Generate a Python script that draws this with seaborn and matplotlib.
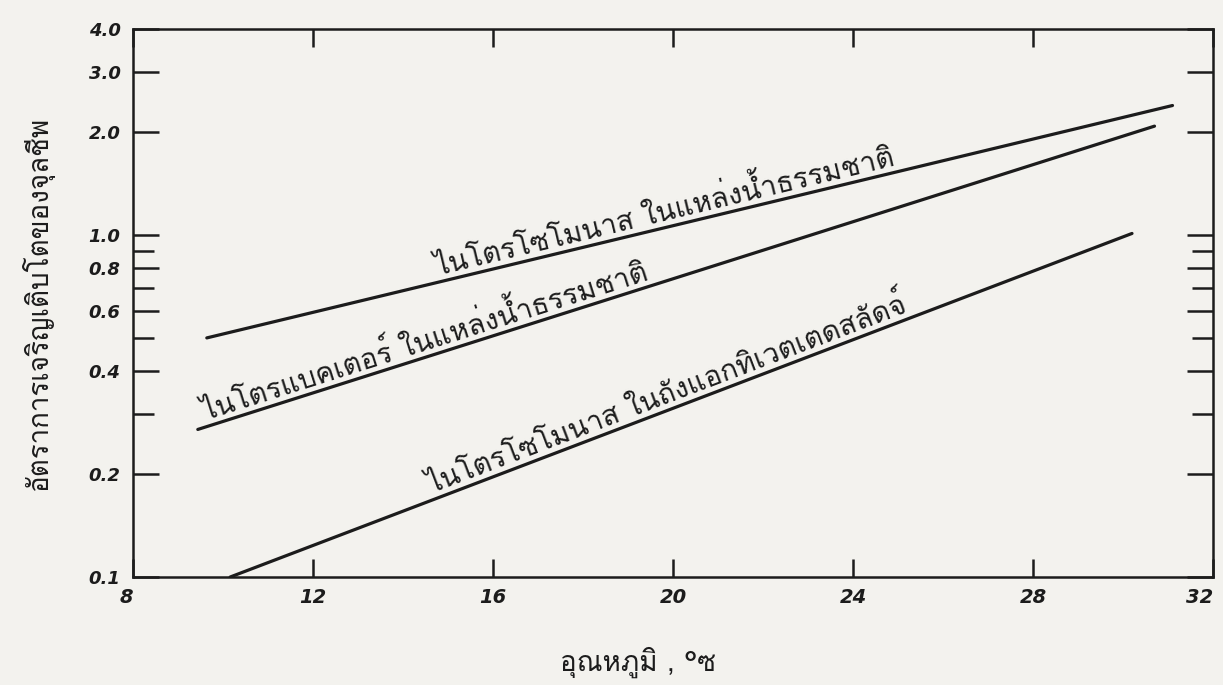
import numpy as np
import pandas as pd
import matplotlib
matplotlib.use("Agg")
import matplotlib.pyplot as plt
import seaborn as sns
from matplotlib import font_manager
from matplotlib.ft2font import FT2Font
from matplotlib.ticker import FixedLocator, FixedFormatter, NullFormatter

# Growth-rate lines: temperature (°C) against growth rate (log scale)
nitrosomonas_natural_temp = [9.64, 31.1]
nitrosomonas_natural_rate = [0.50, 2.39]
nitrobacter_natural_temp = [9.44, 30.7]
nitrobacter_natural_rate = [0.27, 2.08]
nitrosomonas_sludge_temp = [10.16, 30.2]
nitrosomonas_sludge_rate = [0.10, 1.01]

series_labels = [
    "ไนโตรโซโมนาส ในแหล่งน้ำธรรมชาติ",
    "ไนโตรแบคเตอร์ ในแหล่งน้ำธรรมชาติ",
    "ไนโตรโซโมนาส ในถังแอกทิเวตเตดสลัดจ์",
]
# x position (°C) of the centre of each label along its line
label_centres = [19.9, 14.6, 20.0]

x_ticks = [8, 12, 16, 20, 24, 28, 32]
x_tick_labels = ["8", "12", "16", "20", "24", "28", "32"]
y_major = [0.1, 0.2, 0.4, 0.6, 0.8, 1.0, 2.0, 3.0, 4.0]
y_major_labels = ["0.1", "0.2", "0.4", "0.6", "0.8", "1.0", "2.0", "3.0", "4.0"]
y_minor = [0.3, 0.5, 0.7, 0.9]

x_title = "อุณหภูมิ , °ซ"
y_title = "อัตราการเจริญเติบโตของจุลชีพ"

INK = "#1c1c1c"
PAPER = "#f3f2ee"


def thai_families():
    """Families installed on the system that carry Thai glyphs."""
    names = []
    for path in sorted(font_manager.findSystemFonts()):
        try:
            cmap = FT2Font(path).get_charmap()
        except Exception:
            continue
        if 0x0E01 in cmap and 0x0E49 in cmap:
            try:
                font_manager.fontManager.addfont(path)
                name = font_manager.FontProperties(fname=path).get_name()
            except Exception:
                continue
            if name not in names:
                names.append(name)
    return names


sns.set_style("ticks")
thai = thai_families()
text_family = (thai[:1] if thai else []) + ["DejaVu Sans"]
plt.rcParams["font.family"] = ["DejaVu Sans"]
plt.rcParams["axes.edgecolor"] = INK
plt.rcParams["xtick.color"] = INK
plt.rcParams["ytick.color"] = INK

df = pd.concat([
    pd.DataFrame({"temp": nitrosomonas_natural_temp,
                  "rate": nitrosomonas_natural_rate,
                  "series": series_labels[0]}),
    pd.DataFrame({"temp": nitrobacter_natural_temp,
                  "rate": nitrobacter_natural_rate,
                  "series": series_labels[1]}),
    pd.DataFrame({"temp": nitrosomonas_sludge_temp,
                  "rate": nitrosomonas_sludge_rate,
                  "series": series_labels[2]}),
], ignore_index=True)

W, H = 1223, 685
fig = plt.figure(figsize=(W / 100, H / 100), dpi=100, facecolor=PAPER)
ax = fig.add_axes([133 / W, 1 - 577 / H, 1080 / W, 548 / H])
ax.set_facecolor(PAPER)

sns.lineplot(data=df, x="temp", y="rate", hue="series",
             palette=[INK] * 3, linewidth=2.3, legend=False,
             estimator=None, sort=False, ax=ax,
             solid_capstyle="round")

ax.set_yscale("log")
ax.set_xlim(8, 32)
ax.set_ylim(0.1, 4.0)

for side in ("left", "right", "top", "bottom"):
    ax.spines[side].set_visible(True)
    ax.spines[side].set_linewidth(1.8)
    ax.spines[side].set_color(INK)

ax.xaxis.set_major_locator(FixedLocator(x_ticks))
ax.xaxis.set_major_formatter(FixedFormatter(x_tick_labels))
ax.yaxis.set_major_locator(FixedLocator(y_major))
ax.yaxis.set_major_formatter(FixedFormatter(y_major_labels))
ax.yaxis.set_minor_locator(FixedLocator(y_minor))
ax.yaxis.set_minor_formatter(NullFormatter())
ax.xaxis.set_minor_locator(FixedLocator([]))

ax.tick_params(axis="x", which="major", direction="in", length=13, width=1.8,
               top=True, bottom=True, labelsize=14, pad=8, labelcolor=INK)
ax.tick_params(axis="y", which="major", direction="in", length=19, width=1.8,
               left=True, right=True, labelsize=13, pad=9, labelcolor=INK)
ax.tick_params(axis="y", which="minor", direction="in", length=15, width=1.8,
               left=True, right=True)
xlabels = ax.get_xticklabels()
for lab in xlabels + ax.get_yticklabels():
    lab.set_fontstyle("italic")
    lab.set_fontweight("bold")
# the end temperature labels sit just inside the frame corners
xlabels[-1].set_horizontalalignment("right")
xlabels[0].set_horizontalalignment("right")

ax.set_xlabel(x_title, family=text_family, fontsize=20, color=INK)
ax.xaxis.set_label_coords((638 - 133) / 1080, (577 - 662) / 548)
ax.xaxis.label.set_va("center")
ax.set_ylabel(y_title, family=text_family, fontsize=20, color=INK)
ax.yaxis.set_label_coords((54 - 133) / 1080, 0.5)

lines = [
    (nitrosomonas_natural_temp, nitrosomonas_natural_rate),
    (nitrobacter_natural_temp, nitrobacter_natural_rate),
    (nitrosomonas_sludge_temp, nitrosomonas_sludge_rate),
]
for text, (xs, ys), xc in zip(series_labels, lines, label_centres):
    p0 = ax.transData.transform((xs[0], ys[0]))
    p1 = ax.transData.transform((xs[1], ys[1]))
    rad = np.arctan2(p1[1] - p0[1], p1[0] - p0[0])
    yc = 10 ** np.interp(xc, xs, np.log10(ys))
    off = 6 * 72 / 100
    ax.annotate(text, (xc, yc),
                xytext=(-np.sin(rad) * off, np.cos(rad) * off),
                textcoords="offset points",
                rotation=np.degrees(rad), rotation_mode="anchor",
                ha="center", va="baseline", family=text_family,
                fontsize=20.5, color=INK)

fig.savefig("out.png", dpi=100, facecolor=PAPER)
